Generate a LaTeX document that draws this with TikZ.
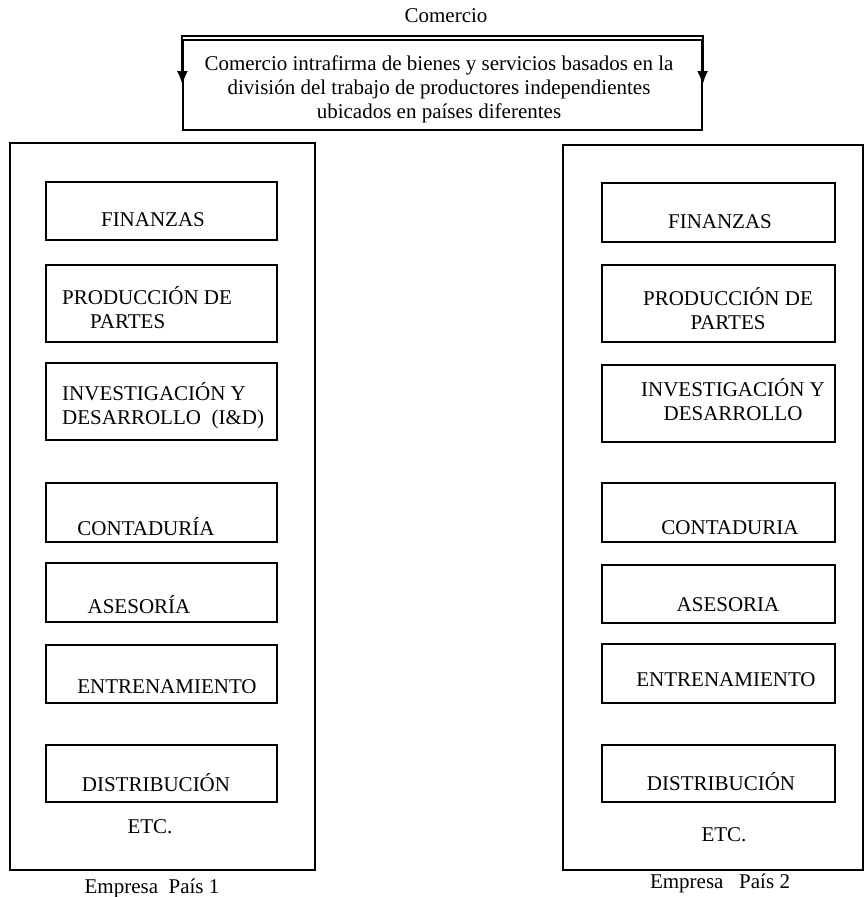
\documentclass[tikz,border=0pt]{standalone}
\usepackage{fontspec}
\setmainfont{Liberation Serif}
\usetikzlibrary{arrows.meta}
\begin{document}
\begin{tikzpicture}[x=1pt,y=-1pt,
  box/.style={draw, line width=1.6pt, inner sep=0pt},
  tall/.style={draw, line width=1.3pt, inner sep=0pt},
  lbl/.style={font=\fontsize{21}{24}\selectfont, inner sep=0pt},
  conn/.style={line width=2.2pt, {Latex[length=14pt,width=11pt]}-{Latex[length=14pt,width=11pt]}}
]
\useasboundingbox[fill=white] (0,0) rectangle (863,897);

% title
\node[lbl] (titulo) at (446,16) {Comercio};

% top box
\node[draw, line width=1.3pt, minimum width=519pt, minimum height=90pt, inner sep=0pt] (tb) at (442.5,85) {};
\node[lbl, align=center] (tbT) at (439,89) {Comercio intrafirma de bienes y servicios basados en la\\división del trabajo de productores independientes\\ubicados en países diferentes};
\draw[conn] (tb.west) -- ++(0,-49) -| (tb.east);

% tall boxes
\node[tall, minimum width=305pt, minimum height=727pt] (izq) at (162.5,506.5) {};
\node[tall, minimum width=300pt, minimum height=725pt] (der) at (713,507.5) {};

% left inner boxes
\node[box, minimum width=231pt, minimum height=58pt] (lfin) at (161.5,211) {};
\node[box, minimum width=231pt, minimum height=77pt] (lpro) at (161.5,303.5) {};
\node[box, minimum width=231pt, minimum height=77pt] (linv) at (161.5,401.5) {};
\node[box, minimum width=231pt, minimum height=59pt] (lcon) at (161.5,512.5) {};
\node[box, minimum width=231pt, minimum height=59pt] (lase) at (161.5,592.5) {};
\node[box, minimum width=231pt, minimum height=58pt] (lent) at (161.5,674) {};
\node[box, minimum width=231pt, minimum height=57pt] (ldis) at (161.5,773.5) {};

% right inner boxes
\node[box, minimum width=233pt, minimum height=59pt] (rfin) at (718.5,212.5) {};
\node[box, minimum width=233pt, minimum height=77pt] (rpro) at (718.5,303.5) {};
\node[box, minimum width=233pt, minimum height=77pt] (rinv) at (718.5,403.5) {};
\node[box, minimum width=233pt, minimum height=59pt] (rcon) at (718.5,512.5) {};
\node[box, minimum width=233pt, minimum height=58pt] (rase) at (718.5,594) {};
\node[box, minimum width=233pt, minimum height=59pt] (rent) at (718.5,673.5) {};
\node[box, minimum width=233pt, minimum height=57pt] (rdis) at (718.5,773.5) {};

% left labels
\node[lbl] (lfinT) at (153,220) {FINANZAS};
\node[lbl, align=left, anchor=west] (lproT) at (62,308) {PRODUCCIÓN DE\\\hspace*{28pt}PARTES};
\node[lbl, align=left, anchor=west] (linvT) at (62,406) {INVESTIGACIÓN Y\\DESARROLLO\ \ (I\&D)};
\node[lbl] (lconT) at (146,527) {CONTADURÍA};
\node[lbl] (laseT) at (139,605) {ASESORÍA};
\node[lbl] (lentT) at (167,687) {ENTRENAMIENTO};
\node[lbl] (ldisT) at (156,783) {DISTRIBUCIÓN};
\node[lbl] (letc) at (150,827) {ETC.};
\node[lbl] (lemp) at (152,888) {Empresa\ \ País 1};

% right labels
\node[lbl] (rfinT) at (720,222) {FINANZAS};
\node[lbl, align=center] (rproT) at (728,309) {PRODUCCIÓN DE\\PARTES};
\node[lbl, align=center] (rinvT) at (733,400) {INVESTIGACIÓN Y\\DESARROLLO};
\node[lbl] (rconT) at (730,528) {CONTADURIA};
\node[lbl] (raseT) at (728,605) {ASESORIA};
\node[lbl] (rentT) at (726,680) {ENTRENAMIENTO};
\node[lbl] (rdisT) at (721,782) {DISTRIBUCIÓN};
\node[lbl] (retc) at (724,835) {ETC.};
\node[lbl] (remp) at (720,883) {Empresa\ \ \ País 2};
\end{tikzpicture}
\end{document}
